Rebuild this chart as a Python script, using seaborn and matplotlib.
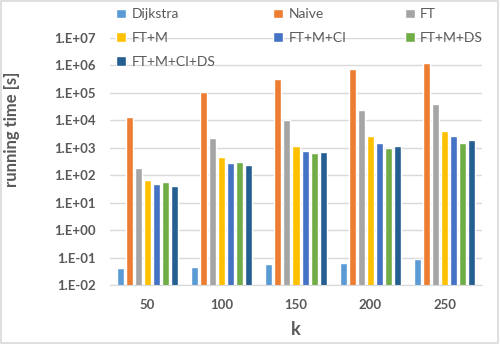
import numpy as np
import pandas as pd
import matplotlib
matplotlib.use("Agg")
import matplotlib.pyplot as plt
from matplotlib.ticker import FuncFormatter, LogLocator, NullLocator
import seaborn as sns

# running time [s] per k
k_values = ["50", "100", "150", "200", "250"]
dijkstra = [0.040, 0.044, 0.056, 0.066, 0.085]
naive = [13800, 104000, 310000, 720000, 1280000]
ft = [177, 2190, 10700, 23000, 41000]
ft_m = [65, 447, 1120, 2600, 3950]
ft_m_ci = [46, 269, 740, 1550, 2600]
ft_m_ds = [59, 295, 620, 960, 1550]
ft_m_ci_ds = [42, 229, 680, 1200, 2000]

series = ["Dijkstra", "Naive", "FT", "FT+M", "FT+M+CI", "FT+M+DS", "FT+M+CI+DS"]
colors = ["#5B9BD5", "#ED7D31", "#A5A5A5", "#FFC000", "#4472C4", "#70AD47", "#255E91"]

rows = []
for name, vals in zip(series, [dijkstra, naive, ft, ft_m, ft_m_ci, ft_m_ds, ft_m_ci_ds]):
    for k, v in zip(k_values, vals):
        rows.append({"k": k, "method": name, "time": v})
df = pd.DataFrame(rows)

sns.set_style("white")
plt.rcParams["font.family"] = ["Lato", "DejaVu Sans"]
grey = "#595959"

fig = plt.figure(figsize=(5.0, 3.44), dpi=100)
ax = fig.add_axes([0.22, 0.1715, 0.744, 0.718])
ax.set_axisbelow(True)

sns.barplot(data=df, x="k", y="time", hue="method", hue_order=series,
            palette=colors, width=0.85, gap=0.22, saturation=1,
            errorbar=None, ax=ax)
ax.set_yscale("log")
ax.set_ylim(1e-2, 1e7)
ax.set_xlim(-0.5, 4.5)
ax.yaxis.set_major_locator(LogLocator(base=10, numticks=20))
ax.yaxis.set_minor_locator(NullLocator())
ax.yaxis.set_major_formatter(FuncFormatter(lambda v, p: "1.E{:+03d}".format(int(round(np.log10(v))))))
ax.grid(axis="y", color="#D9D9D9", lw=1)
ax.grid(axis="x", visible=False)
for s in ["top", "right", "left"]:
    ax.spines[s].set_visible(False)
ax.spines["bottom"].set_color("#D9D9D9")
ax.tick_params(length=0, labelsize=9.5, colors=grey, pad=10)
for lab in ax.get_xticklabels() + ax.get_yticklabels():
    lab.set_fontweight("bold")
ax.tick_params(axis="x", pad=10)

ax.set_xlabel("k", fontsize=13, fontweight="bold", color=grey)
ax.xaxis.set_label_coords(0.5, -0.145)
ax.set_ylabel("running time [s]", fontsize=12, fontweight="bold", color=grey)
ax.yaxis.set_label_coords(-0.242, 0.63)

handles, labels = ax.get_legend_handles_labels()
ax.get_legend().remove()
order = [0, 3, 6, 1, 4, 2, 5]
fig.legend([handles[i] for i in order], [labels[i] for i in order], ncol=3,
           loc="upper left", bbox_to_anchor=(0.207, 1.012),
           frameon=False, fontsize=10, labelcolor=grey, handlelength=0.7,
           handleheight=0.7, handletextpad=0.4, columnspacing=4.2,
           labelspacing=0.85)

fig.patches.append(plt.Rectangle((0.002, 0.004), 0.994, 0.993, transform=fig.transFigure,
                                 fill=False, edgecolor="#D9D9D9", lw=1.2))

fig.savefig("out.png", dpi=100)
